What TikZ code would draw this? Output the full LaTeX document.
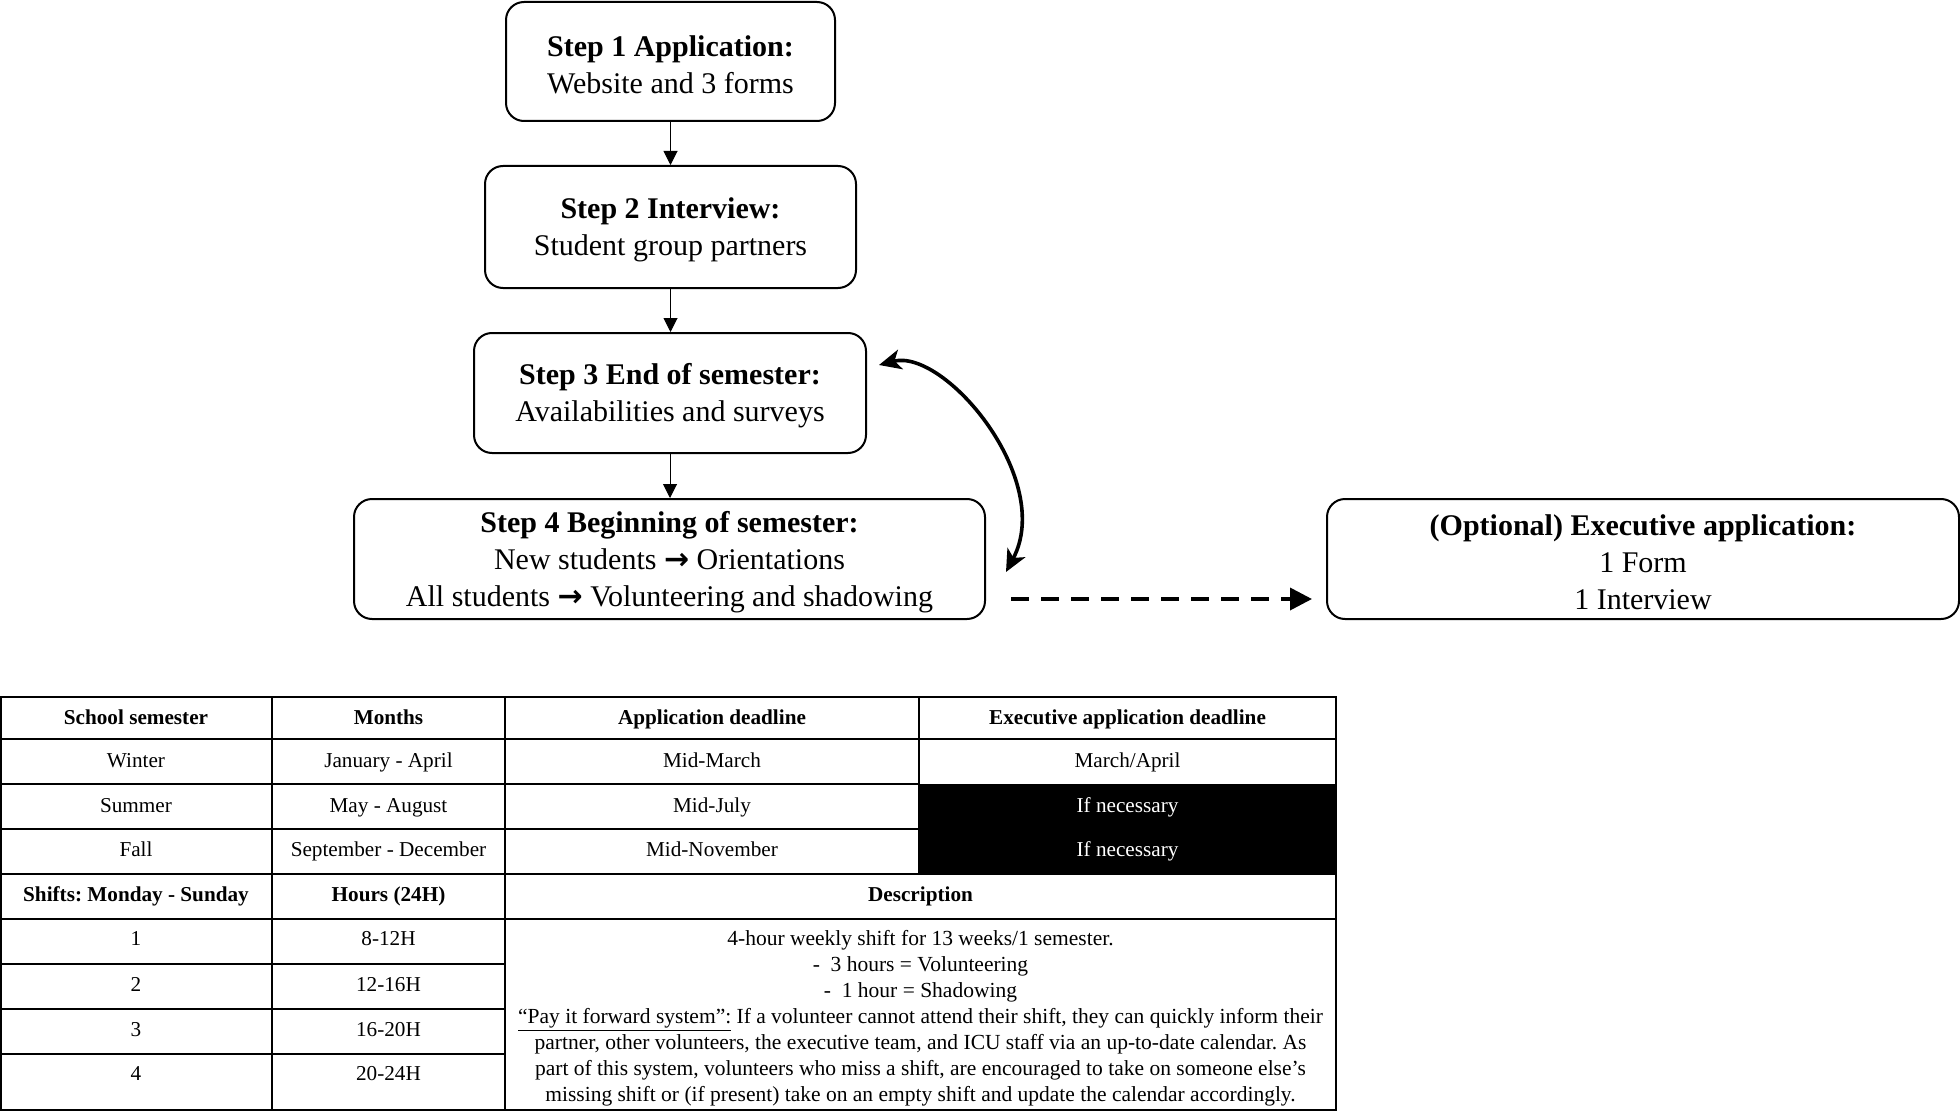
\documentclass[tikz,border=0pt]{standalone}
\usepackage{fontspec}
\setmainfont{Liberation Serif}
\newfontfamily\arrowfont{DejaVu Sans}
\usetikzlibrary{arrows.meta,calc}
\newcommand\myarr{{\arrowfont\bfseries →}}
\newcommand\topgap{\rule{0pt}{13.5pt}}
\frenchspacing
\begin{document}
\begin{tikzpicture}[x=0.5pt,y=-0.5pt,
  stepbox/.style={draw, line width=1pt, rounded corners=9pt, align=center, inner sep=0pt,
    font=\fontsize{15}{18.4}\selectfont},
  flow/.style={-{Triangle[width=7pt,length=7pt]}, line width=0.5pt},
  bigcurve/.style={line width=1.8pt, {Stealth[length=11pt,width=10pt,inset=3pt]}-{Stealth[length=11pt,width=10pt,inset=3pt]}},
  dasharrow/.style={line width=1.8pt, dash pattern=on 9pt off 6pt, -{Triangle[length=11pt,width=11pt]}},
  gridline/.style={line width=0.75pt},
  cell/.style={inner sep=0pt, anchor=center, text height=7pt, text depth=0pt, font=\fontsize{10.6}{13}\selectfont},
  headcell/.style={cell, font=\fontsize{10.6}{13}\selectfont\bfseries},
  darkcell/.style={cell, text=white}
]
\useasboundingbox (0,0) rectangle (1960,1113);

% flow boxes
\node[stepbox, minimum width=164.5pt, minimum height=59.5pt] (b1) at (670.5,61.5)
  {\topgap\textbf{Step 1 Application:}\\Website and 3 forms};
\node[stepbox, minimum width=185.5pt, minimum height=61pt] (b2) at (670.5,227)
  {\topgap\textbf{Step 2 Interview:}\\Student group partners};
\node[stepbox, minimum width=196pt, minimum height=60pt] (b3) at (670,393)
  {\topgap\textbf{Step 3 End of semester:}\\Availabilities and surveys};
\node[stepbox, minimum width=315.5pt, minimum height=60pt] (b4) at (669.5,559)
  {\topgap\textbf{Step 4 Beginning of semester:}\\New students \myarr{} Orientations\\All students \myarr{} Volunteering and shadowing};
\node[stepbox, minimum width=316pt, minimum height=60pt] (b5) at (1643,559)
  {\topgap\textbf{(Optional) Executive application:}\\1 Form\\1 Interview};

\draw[flow] (b1.south) -- (b1.south |- b2.north);
\draw[flow] (b2.south) -- (b2.south |- b3.north);
\draw[flow] (b3.south) -- (b3.south |- b4.north);

\coordinate (cA) at ($(b3.east)+(12,-28)$);
\coordinate (cB) at ($(b4.east)+(20,13)$);
\draw[bigcurve] (cA) .. controls (945,348) and (1055,480) .. (cB);

\coordinate (dA) at ($(b4.east)+(25,40)$);
\coordinate (dB) at ($(b5.west)+(-14,40)$);
\draw[dasharrow] (dA) -- (dB);

% table
\fill[black] (919,784) rectangle (1336,874);
\draw[gridline] (1,697) rectangle (1336,1110);
\draw[gridline] (1,739) -- (1336,739);
\draw[gridline] (1,784) -- (919,784);
\draw[gridline] (1,829) -- (919,829);
\draw[gridline] (1,874) -- (1336,874);
\draw[gridline] (1,919) -- (1336,919);
\draw[gridline] (1,964) -- (505,964);
\draw[gridline] (1,1009) -- (505,1009);
\draw[gridline] (1,1054) -- (505,1054);
\draw[gridline] (272,697) -- (272,1110);
\draw[gridline] (505,697) -- (505,1110);
\draw[gridline] (919,697) -- (919,874);

\node[headcell] (h1) at (136,717) {School semester};
\node[headcell] (h2) at (388.5,717) {Months};
\node[headcell] (h3) at (712,717) {Application deadline};
\node[headcell] (h4) at (1127.5,717) {Executive application deadline};

\node[cell] (w1) at (136,760) {Winter};
\node[cell] (w2) at (388.5,760) {January - April};
\node[cell] (w3) at (712,760) {Mid-March};
\node[cell] (w4) at (1127.5,760) {March/April};

\node[cell] (s1) at (136,805) {Summer};
\node[cell] (s2) at (388.5,805) {May - August};
\node[cell] (s3) at (712,805) {Mid-July};
\node[darkcell] (s4) at (1127.5,805) {If necessary};

\node[cell] (f1) at (136,849) {Fall};
\node[cell] (f2) at (388.5,849) {September - December};
\node[cell] (f3) at (712,849) {Mid-November};
\node[darkcell] (f4) at (1127.5,849) {If necessary};

\node[headcell] (g1) at (136,894) {Shifts: Monday - Sunday};
\node[headcell] (g2) at (388.5,894) {Hours (24H)};
\node[headcell] (g3) at (920.5,894) {Description};

\node[cell] (r1a) at (136,938) {1};
\node[cell] (r1b) at (388.5,938) {8-12H};
\node[cell] (r2a) at (136,984) {2};
\node[cell] (r2b) at (388.5,984) {12-16H};
\node[cell] (r3a) at (136,1029) {3};
\node[cell] (r3b) at (388.5,1029) {16-20H};
\node[cell] (r4a) at (136,1073) {4};
\node[cell] (r4b) at (388.5,1073) {20-24H};

\node[inner sep=0pt, align=center, font=\fontsize{10.75}{13}\selectfont] (desc) at (920.5,1018)
 {4-hour weekly shift for 13 weeks/1 semester.\\
 -\ \ 3 hours = Volunteering\\
 -\ \ 1 hour = Shadowing\\
 \underline{“Pay it forward system”:} If a volunteer cannot attend their shift, they can quickly inform their\\
 partner, other volunteers, the executive team, and ICU staff via an up-to-date calendar. As\\
 part of this system, volunteers who miss a shift, are encouraged to take on someone else’s\\
 missing shift or (if present) take on an empty shift and update the calendar accordingly.};
\end{tikzpicture}
\end{document}
